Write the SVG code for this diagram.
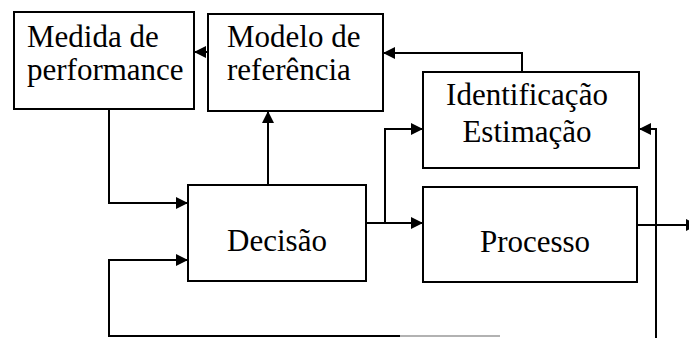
<svg xmlns="http://www.w3.org/2000/svg" width="689" height="338" viewBox="0 0 689 338">
<style>
.box{fill:#fff;stroke:#000;stroke-width:2}
.lbl{font-family:"Liberation Serif","Times New Roman",serif;font-size:31px;fill:#000}
.ln{fill:none;stroke:#000;stroke-width:2}
</style>
<defs>
<marker id="ah" markerUnits="userSpaceOnUse" markerWidth="13" markerHeight="13" refX="12" refY="6" orient="auto">
<path d="M0,0 L12,6 L0,12 z" fill="#000"/>
</marker>
</defs>
<rect width="689" height="338" fill="#fff"/>
<g id="connectors">
<polyline class="ln" points="208,52 194,52" marker-end="url(#ah)"/>
<polyline class="ln" points="522,72 522,53 383,53" marker-end="url(#ah)"/>
<polyline class="ln" points="268,185 268,111" marker-end="url(#ah)"/>
<polyline class="ln" points="109,109 109,203 188,203" marker-end="url(#ah)"/>
<polyline class="ln" points="400,336 109,336 109,260 188,260" marker-end="url(#ah)"/>
<line x1="400" y1="336" x2="500" y2="336" stroke="#999" stroke-width="1.5"/>
<polyline class="ln" points="366,223 423,223" marker-end="url(#ah)"/>
<polyline class="ln" points="385,223 385,129 423,129" marker-end="url(#ah)"/>
<polyline class="ln" points="656,338 656,129 639,129" marker-end="url(#ah)"/>
<polyline class="ln" points="637,225 698,225" marker-end="url(#ah)"/>
</g>
<g id="medida">
<rect class="box" x="14" y="12" width="180" height="97"/>
<text class="lbl" x="27" y="47">Medida de</text>
<text class="lbl" x="27" y="80">performance</text>
</g>
<g id="modelo">
<rect class="box" x="208" y="14" width="175" height="97"/>
<text class="lbl" x="227" y="47">Modelo de</text>
<text class="lbl" x="227" y="80">referência</text>
</g>
<g id="identificacao">
<rect class="box" x="423" y="72" width="216" height="96"/>
<text class="lbl" x="527" y="105" text-anchor="middle">Identificação</text>
<text class="lbl" x="527" y="142" text-anchor="middle">Estimação</text>
</g>
<g id="decisao">
<rect class="box" x="188" y="185" width="178" height="96"/>
<text class="lbl" x="277" y="251" text-anchor="middle">Decisão</text>
</g>
<g id="processo">
<rect class="box" x="423" y="187" width="214" height="95"/>
<text class="lbl" x="535" y="252" text-anchor="middle">Processo</text>
</g>
</svg>
